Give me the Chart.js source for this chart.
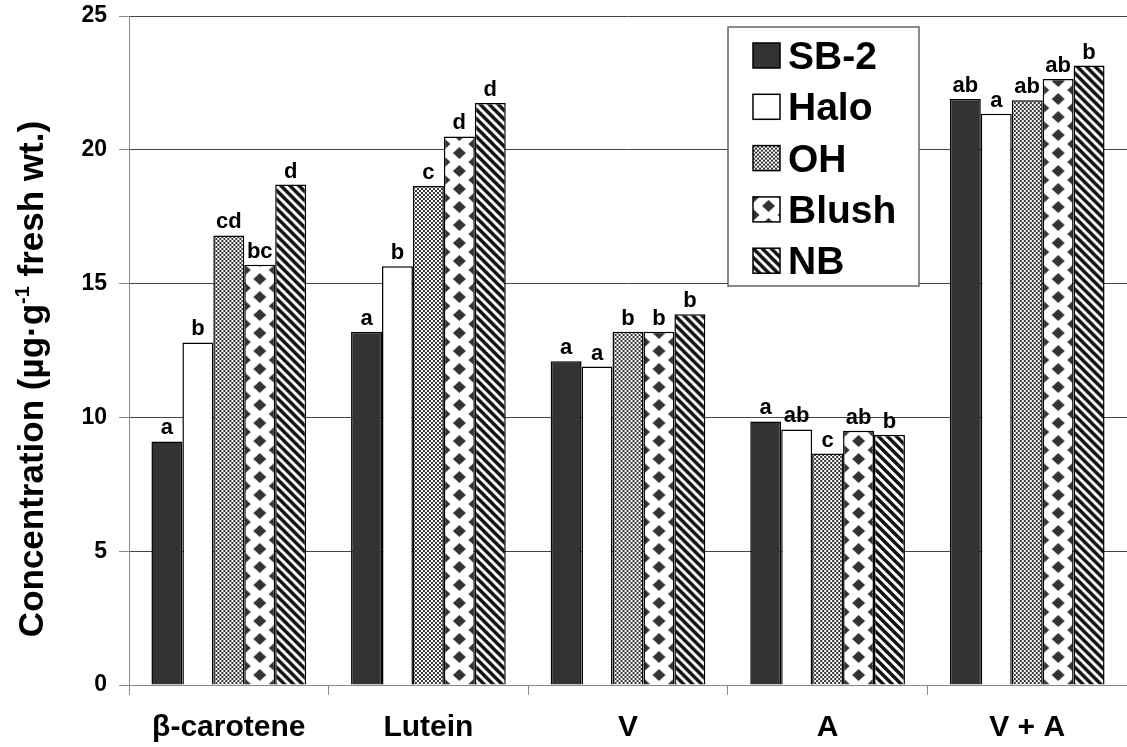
<!DOCTYPE html>
<html>
<head>
  <meta charset="utf-8">
  <script src="https://cdn.jsdelivr.net/npm/chart.js@4.4.1/dist/chart.umd.min.js"></script>
  <style>
    body { margin: 0; background: #fff; }
  </style>
  <script>
    var categories = ['β-carotene', 'Lutein', 'V', 'A', 'V + A'];
    var seriesNames = ['SB-2', 'Halo', 'OH', 'Blush', 'NB'];

    var sb2 = [9.1, 13.2, 12.1, 9.85, 21.9];
    var halo = [12.8, 15.65, 11.9, 9.55, 21.35];
    var oh = [16.8, 18.65, 13.2, 8.65, 21.85];
    var blush = [15.7, 20.5, 13.2, 9.5, 22.65];
    var nb = [18.7, 21.75, 13.85, 9.35, 23.15];

    var sb2Letters = ['a', 'a', 'a', 'a', 'ab'];
    var haloLetters = ['b', 'b', 'a', 'ab', 'a'];
    var ohLetters = ['cd', 'c', 'b', 'c', 'ab'];
    var blushLetters = ['bc', 'd', 'b', 'ab', 'ab'];
    var nbLetters = ['d', 'd', 'b', 'b', 'b'];

    var yTicks = [0, 5, 10, 15, 20, 25];

    var FONT = '"Liberation Sans", Arial, sans-serif';
    var fills = ['#333333', '#ffffff', 'checks', 'diamonds', 'stripes'];
    var letterSets = [sb2Letters, haloLetters, ohLetters, blushLetters, nbLetters];
    var groupShare = 0.775;

    // little bitmaps for the hatched fills
    function makeTile(w, h, paint) {
      var c = document.createElement('canvas');
      c.width = w;
      c.height = h;
      var g = c.getContext('2d');
      g.fillStyle = '#fff';
      g.fillRect(0, 0, w, h);
      paint(g, w, h);
      return c;
    }

    function diamond(g, cx, cy, hx, hy) {
      g.beginPath();
      g.moveTo(cx, cy - hy);
      g.lineTo(cx + hx, cy);
      g.lineTo(cx, cy + hy);
      g.lineTo(cx - hx, cy);
      g.closePath();
      g.fill();
    }

    var tiles = {
      checks: makeTile(4, 4, function (g) {
        g.fillStyle = '#333';
        g.fillRect(0, 0, 2, 2);
        g.fillRect(2, 2, 2, 2);
      }),
      diamonds: makeTile(31, 18, function (g, w, h) {
        g.fillStyle = '#333';
        [[0, 0], [w, 0], [0, h], [w, h], [w / 2, h / 2]].forEach(function (p) {
          diamond(g, p[0], p[1], 6.5, 6);
        });
      }),
      stripes: makeTile(9, 9, function (g, w, h) {
        g.strokeStyle = '#111';
        g.lineWidth = 3.4;
        for (var k = -1; k <= 1; k++) {
          g.beginPath();
          g.moveTo(k * w - 1, -1);
          g.lineTo(k * w + w + 1, h + 1);
          g.stroke();
        }
      })
    };

    function fillAt(ctx, kind, left, top) {
      if (!tiles[kind]) return kind;
      var p = ctx.createPattern(tiles[kind], 'repeat');
      p.setTransform(new DOMMatrix().translate(left, top));
      return p;
    }

    // pattern lined up with the left edge of each bar
    function barFill(kind) {
      return function (c) {
        var xs = c.chart.scales.x;
        if (c.type !== 'data' || !xs) return fillAt(c.chart.ctx, kind, 0, 0);
        var slot = xs.width / categories.length * groupShare / seriesNames.length;
        var left = xs.getPixelForValue(c.dataIndex) + (c.datasetIndex - seriesNames.length / 2) * slot;
        return fillAt(c.chart.ctx, kind, left, 0);
      };
    }

    var letterPlugin = {
      id: 'letters',
      afterDatasetsDraw: function (chart) {
        var ctx = chart.ctx;
        ctx.save();
        ctx.font = 'bold 22px ' + FONT;
        ctx.textAlign = 'center';
        ctx.textBaseline = 'alphabetic';
        ctx.fillStyle = '#000';
        chart.data.datasets.forEach(function (ds, di) {
          chart.getDatasetMeta(di).data.forEach(function (bar, i) {
            ctx.fillText(letterSets[di][i], bar.x, bar.y - 7);
          });
        });
        ctx.restore();
      }
    };

    var boxLegend = {
      id: 'boxLegend',
      afterDraw: function (chart) {
        var ctx = chart.ctx;
        ctx.save();
        ctx.fillStyle = '#fff';
        ctx.fillRect(728, 27, 191, 259);
        ctx.strokeStyle = '#666';
        ctx.lineWidth = 1.5;
        ctx.strokeRect(728, 27, 191, 259);
        ctx.font = 'bold 39px ' + FONT;
        ctx.textBaseline = 'alphabetic';
        ctx.textAlign = 'left';
        chart.data.datasets.forEach(function (ds, i) {
          var base = 69 + i * 51.3;
          var top = base - 26;
          ctx.fillStyle = fillAt(ctx, fills[i], 753, top);
          ctx.fillRect(753, top, 27, 25);
          ctx.strokeStyle = '#000';
          ctx.lineWidth = 1.5;
          ctx.strokeRect(753, top, 27, 25);
          ctx.fillStyle = '#000';
          ctx.fillText(ds.label, 788, base);
        });
        ctx.restore();
      }
    };

    var yTitle = {
      id: 'yTitle',
      afterDraw: function (chart) {
        var ctx = chart.ctx;
        var main1 = 'Concentration (µg·g';
        var sup = '-1';
        var main2 = ' fresh wt.)';
        var big = 'bold 35px ' + FONT;
        var small = 'bold 20px ' + FONT;
        ctx.save();
        ctx.font = big;
        var w1 = ctx.measureText(main1).width;
        var w3 = ctx.measureText(main2).width;
        ctx.font = small;
        var w2 = ctx.measureText(sup).width;
        var total = w1 + w2 + w3;
        ctx.translate(43, 379);
        ctx.rotate(-Math.PI / 2);
        ctx.fillStyle = '#000';
        ctx.textBaseline = 'alphabetic';
        ctx.textAlign = 'left';
        var x = -total / 2;
        ctx.font = big;
        ctx.fillText(main1, x, 0);
        ctx.font = small;
        ctx.fillText(sup, x + w1, -14);
        ctx.font = big;
        ctx.fillText(main2, x + w1 + w2, 0);
        ctx.restore();
      }
    };

    function drawGraph(canvasId) {
      var ctx = document.getElementById(canvasId).getContext('2d');
      var seriesValues = [sb2, halo, oh, blush, nb];
      new Chart(ctx, {
        type: 'bar',
        data: {
          labels: categories,
          datasets: seriesNames.map(function (name, i) {
            return {
              label: name,
              data: seriesValues[i],
              backgroundColor: barFill(fills[i]),
              borderColor: '#000',
              borderWidth: 1.5,
              borderSkipped: 'bottom',
              categoryPercentage: groupShare,
              barPercentage: 1.0
            };
          })
        },
        options: {
          responsive: false,
          animation: false,
          events: [],
          layout: { padding: { top: 16, left: 0, right: 0, bottom: 0 } },
          plugins: {
            legend: { display: false },
            tooltip: { enabled: false }
          },
          scales: {
            x: {
              afterFit: function (scale) { scale.height = 62; },
              grid: {
                offset: true,
                drawOnChartArea: false,
                tickLength: 10,
                tickColor: '#888',
                color: '#888'
              },
              border: { color: '#888', width: 1 },
              ticks: {
                color: '#000',
                padding: 15,
                font: { family: FONT, size: 30, weight: 'bold' }
              }
            },
            y: {
              min: yTicks[0],
              max: yTicks[yTicks.length - 1],
              afterFit: function (scale) {
                scale.width = 129;
                scale.paddingTop = 0;
              },
              afterBuildTicks: function (scale) {
                scale.ticks = yTicks.map(function (v) { return { value: v }; });
              },
              grid: {
                color: '#444',
                tickColor: '#888',
                tickLength: 10
              },
              border: { color: '#888', width: 1 },
              ticks: {
                color: '#000',
                padding: 12,
                font: { family: FONT, size: 23, weight: 'bold' }
              }
            }
          }
        },
        plugins: [letterPlugin, boxLegend, yTitle]
      });
    }

    window.onload = function () {
      drawGraph('chart');
    };
  </script>
</head>
<body>
  <canvas id="chart" width="1127" height="747"></canvas>
</body>
</html>
